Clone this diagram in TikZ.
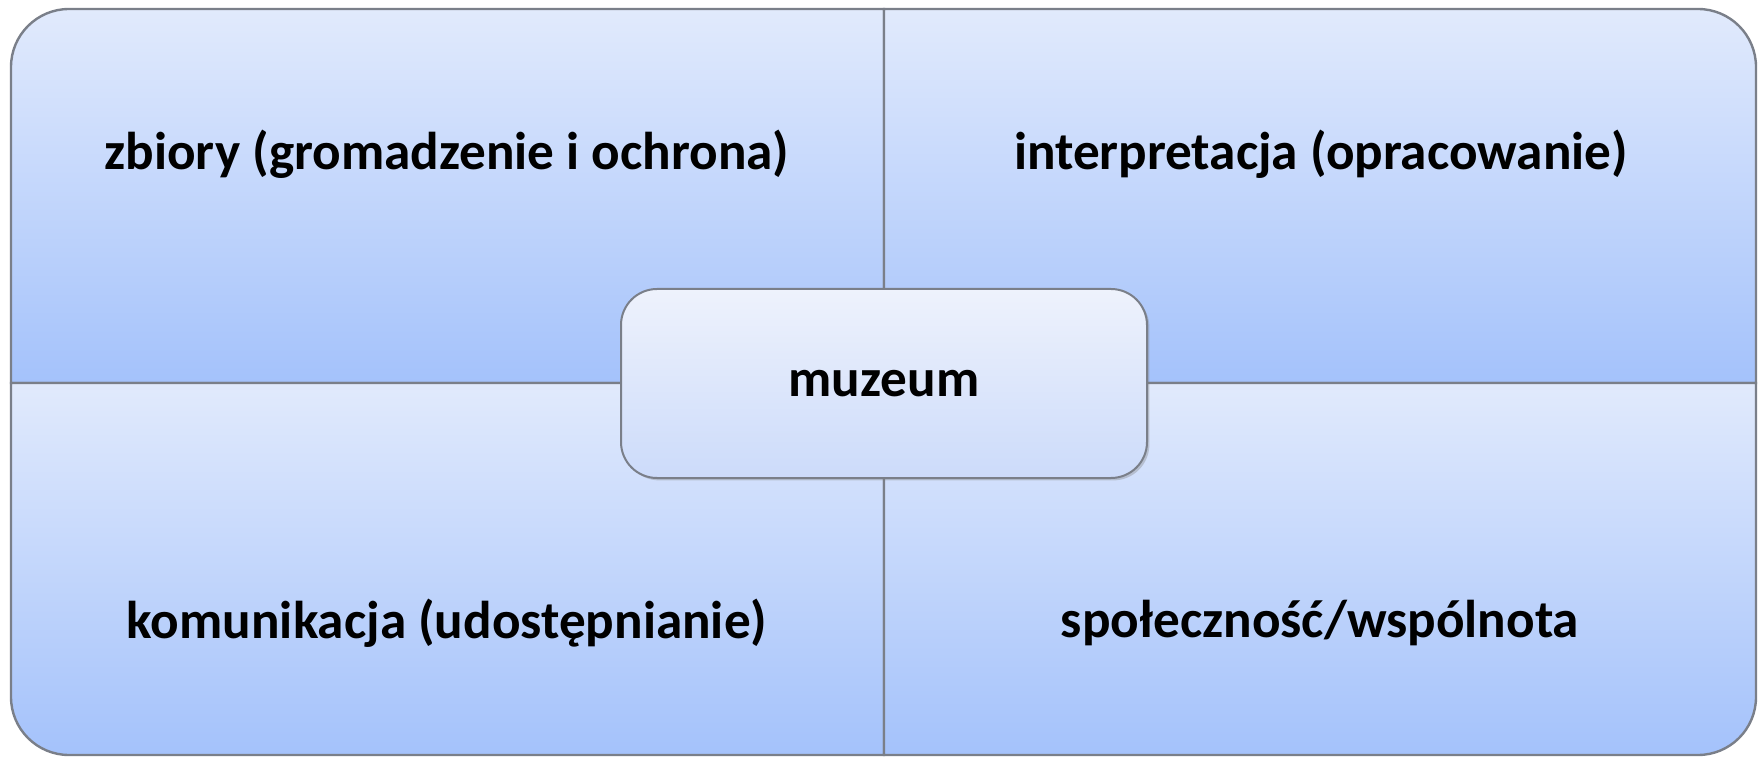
\documentclass[tikz,border=0pt]{standalone}
\usepackage{fontspec}
\setmainfont{Carlito}
\usetikzlibrary{shadows}
\definecolor{qtop}{HTML}{E1EAFC}
\definecolor{qbot}{HTML}{A4C2FB}
\definecolor{ctop}{HTML}{EEF2FC}
\definecolor{cbot}{HTML}{CCDBFA}
\definecolor{edge}{HTML}{7A7F89}
\tikzset{
  quad/.style={top color=qtop, bottom color=qbot, draw=edge, line width=1.2pt},
  lbl/.style={font=\bfseries\fontsize{26.6}{30}\selectfont, text=black, inner sep=0pt},
  centerbox/.style={draw=edge, line width=1pt, rounded corners=18pt, top color=ctop, bottom color=cbot,
    minimum width=263pt, minimum height=94.5pt, drop shadow={opacity=0.35, shadow xshift=1.2pt, shadow yshift=-1.2pt}}
}
\begin{document}
\begin{tikzpicture}[x=0.5pt,y=0.5pt]
\useasboundingbox (0,0) rectangle (1762,756);
\fill[white] (0,0) rectangle (1762,756);
% top-left
\path[quad] (11,373) -- (11,689) arc[start angle=180,end angle=90,radius=29pt] -- (884,747) -- (884,373) -- cycle;
% top-right
\path[quad] (884,373) -- (884,747) -- (1698,747) arc[start angle=90,end angle=0,radius=29pt] -- (1756,373) -- cycle;
% bottom-left
\path[quad] (11,373) -- (884,373) -- (884,1) -- (69,1) arc[start angle=270,end angle=180,radius=29pt] -- cycle;
% bottom-right
\path[quad] (884,373) -- (1756,373) -- (1756,59) arc[start angle=0,end angle=-90,radius=29pt] -- (884,1) -- cycle;
\node[lbl] (tl) at (447,602) {zbiory (gromadzenie i ochrona)};
\node[lbl] (tr) at (1321,602) {interpretacja (opracowanie)};
\node[lbl] (bl) at (447,133) {komunikacja (udostępnianie)};
\node[lbl] (br) at (1320,133) {społeczność/wspólnota};
\node[centerbox, lbl] (c) at (884,372.5) {muzeum};
\end{tikzpicture}
\end{document}
